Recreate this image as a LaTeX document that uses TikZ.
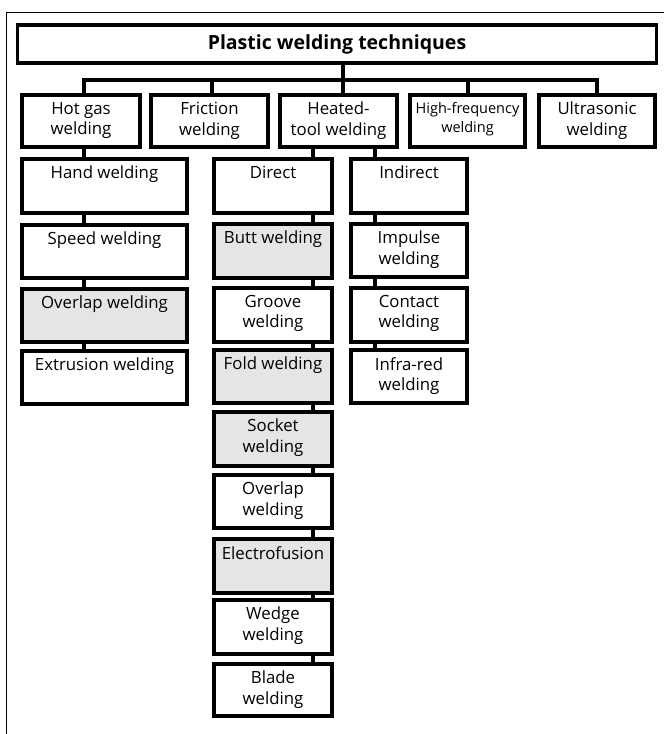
\documentclass[tikz,border=0pt]{standalone}
\usepackage{fontspec}
\setmainfont{Open Sans}
\begin{document}
\begin{tikzpicture}[x=1pt,y=-1pt,
  boxst/.style={draw,line width=3.2pt,rectangle,inner sep=0pt,outer sep=0pt},
  grayst/.style={boxst,fill=black!10},
  txt/.style={font=\fontsize{16.8}{20.5}\selectfont,align=center,inner sep=0pt},
  conn/.style={line width=3.2pt},
  frame/.style={line width=0.9pt}]
\useasboundingbox (0,0) rectangle (664,734);
\newcommand{\bx}[7]{%
  \node[#7,minimum width=#4-#2,minimum height=#5-#3] (#1) at ({(#2+#4)/2},{(#3+#5)/2}) {};
  \node[txt,anchor=north] (#1t) at ([yshift=-7pt]#1.north) {#6};}
% frame
\coordinate (fa) at (664,12);
\coordinate (fb) at (6,12);
\coordinate (fc) at (6,734);
\draw[frame] (fa) -- (fb) -- (fc);
% title
\node[boxst,minimum width=639,minimum height=38] (title) at (337,44) {};
\node[font=\fontsize{19.5}{23}\bfseries\selectfont,inner sep=0pt] (titlet) at (title.center) {Plastic welding techniques};
% level 1
\bx{hot}{22}{95}{140}{147}{Hot gas\\welding}{boxst}
\bx{fric}{151}{95}{268}{147}{Friction\\welding}{boxst}
\bx{heat}{280}{95}{397}{147}{Heated-\\tool welding}{boxst}
\node[boxst,minimum width=115,minimum height=52] (hf) at (467.5,121) {};
\node[txt,font=\fontsize{14.5}{19}\selectfont,anchor=north] (hft) at ([yshift=-7pt]hf.north) {High-frequency\\welding};
\bx{ult}{539}{95}{655}{147}{Ultrasonic\\welding}{boxst}
% column 1
\bx{hand}{22}{159}{187}{213}{Hand welding}{boxst}
\bx{speed}{22}{225}{187}{278}{Speed welding}{boxst}
\bx{ovl}{22}{289}{187}{342}{Overlap welding}{grayst}
\bx{extr}{22}{351}{187}{404}{Extrusion welding}{boxst}
% column 2
\bx{dir}{214}{159}{332}{213}{Direct}{boxst}
\bx{butt}{214}{224}{332}{278}{Butt welding}{grayst}
\bx{groove}{214}{288}{332}{342}{Groove\\welding}{boxst}
\bx{fold}{214}{350}{332}{403}{Fold welding}{grayst}
\bx{socket}{214}{412}{332}{466}{Socket\\welding}{grayst}
\bx{ovl2}{214}{475}{332}{528}{Overlap\\welding}{boxst}
\bx{elec}{214}{539}{332}{593}{Electrofusion}{grayst}
\bx{wedge}{214}{600}{332}{654}{Wedge\\welding}{boxst}
\bx{blade}{214}{664}{332}{716}{Blade\\welding}{boxst}
% column 3
\bx{ind}{351}{159}{467}{213}{Indirect}{boxst}
\bx{imp}{351}{224}{467}{277}{Impulse\\welding}{boxst}
\bx{cont}{351}{288}{467}{342}{Contact\\welding}{boxst}
\bx{infra}{351}{350}{467}{403}{Infra-red\\welding}{boxst}
% connector columns
\coordinate (s1) at (84,80);
\coordinate (s2) at (212,80);
\coordinate (s3) at (343,80);
\coordinate (s4) at (468,80);
\coordinate (s5) at (597,80);
\coordinate (c2) at (313,0);
\coordinate (c3) at (375,0);
\draw[conn] (title.south -| s3) -- (heat.north -| s3);
\draw[conn] (hot.north -| s1) -- (s1) -- (s5) -- (ult.north -| s5);
\draw[conn] (s2) -- (fric.north -| s2);
\draw[conn] (s4) -- (hf.north -| s4);
% column 1 chain
\draw[conn] (hot.south -| s1) -- (hand.north -| s1);
\draw[conn] (hand.south -| s1) -- (speed.north -| s1);
\draw[conn] (speed.south -| s1) -- (ovl.north -| s1);
\draw[conn] (ovl.south -| s1) -- (extr.north -| s1);
% heated-tool branches
\draw[conn] (heat.south -| c2) -- (dir.north -| c2);
\draw[conn] (heat.south -| c3) -- (ind.north -| c3);
% column 2 chain
\draw[conn] (dir.south -| c2) -- (butt.north -| c2);
\draw[conn] (butt.south -| c2) -- (groove.north -| c2);
\draw[conn] (groove.south -| c2) -- (fold.north -| c2);
\draw[conn] (fold.south -| c2) -- (socket.north -| c2);
\draw[conn] (socket.south -| c2) -- (ovl2.north -| c2);
\draw[conn] (ovl2.south -| c2) -- (elec.north -| c2);
\draw[conn] (elec.south -| c2) -- (wedge.north -| c2);
\draw[conn] (wedge.south -| c2) -- (blade.north -| c2);
% column 3 chain
\draw[conn] (ind.south -| c3) -- (imp.north -| c3);
\draw[conn] (imp.south -| c3) -- (cont.north -| c3);
\draw[conn] (cont.south -| c3) -- (infra.north -| c3);
\end{tikzpicture}
\end{document}
